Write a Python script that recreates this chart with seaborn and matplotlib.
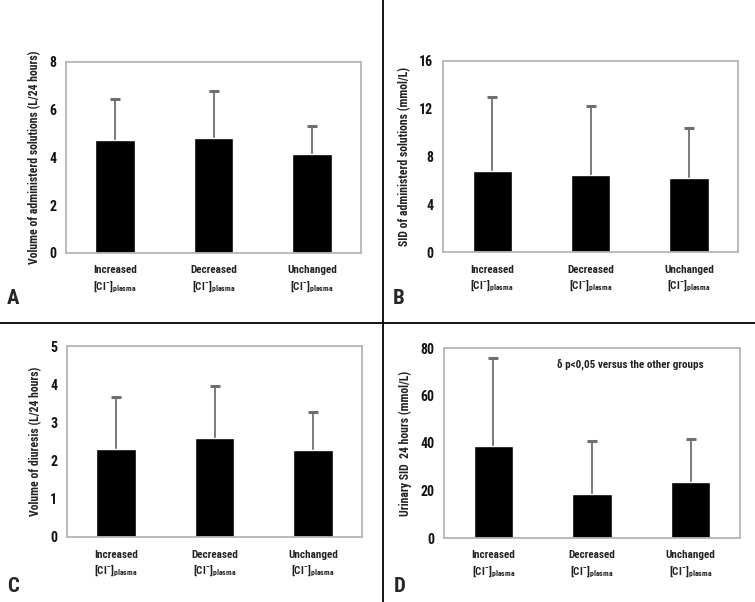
import matplotlib
matplotlib.use("Agg")
import matplotlib.pyplot as plt
from matplotlib import font_manager
import numpy as np
import pandas as pd
import seaborn as sns

# Data (mean and upper SD)
groups = ["Increased", "Decreased", "Unchanged"]
tick_labels = ["Increased\n[Cl$^{-}$]$_{\\mathrm{plasma}}$",
               "Decreased\n[Cl$^{-}$]$_{\\mathrm{plasma}}$",
               "Unchanged\n[Cl$^{-}$]$_{\\mathrm{plasma}}$"]

vol_admin_mean = [4.72, 4.83, 4.15]
vol_admin_sd = [1.73, 1.97, 1.18]

sid_admin_mean = [6.80, 6.41, 6.16]
sid_admin_sd = [6.22, 5.83, 4.26]

diuresis_mean = [2.30, 2.60, 2.28]
diuresis_sd = [1.36, 1.36, 0.98]

urinary_sid_mean = [38.6, 18.5, 23.6]
urinary_sid_sd = [37.3, 22.5, 18.2]

sns.set_style("white")

# pick a narrow font if one is around
names = {f.name for f in font_manager.fontManager.ttflist}
narrow = [n for n in ["Roboto Condensed", "Liberation Sans Narrow", "Open Sans Condensed",
                      "DejaVu Sans Condensed"] if n in names]
plt.rcParams['font.family'] = narrow + ['DejaVu Sans']
plt.rcParams['font.stretch'] = 'condensed'
plt.rcParams['font.weight'] = 'bold'
plt.rcParams['mathtext.fontset'] = 'custom'
base = (narrow + ['DejaVu Sans'])[0]
plt.rcParams['mathtext.rm'] = base + ':bold'
plt.rcParams['mathtext.it'] = base + ':bold'
plt.rcParams['mathtext.bf'] = base + ':bold'

W, H = 755, 602
fig = plt.figure(figsize=(W / 100, H / 100), dpi=100)


def px_axes(left, top, right, bottom):
    return fig.add_axes([left / W, 1 - bottom / H, (right - left) / W, (bottom - top) / H])


def panel(ax, means, sds, ymax, yticks, ylabel):
    df = pd.DataFrame({"group": groups, "value": means})
    sns.barplot(data=df, x="group", y="value", color="black", width=0.4,
                errorbar=None, ax=ax, zorder=2)
    x = np.arange(len(groups))
    tops = np.array(means) + np.array(sds)
    # upper error bar only
    ax.errorbar(x, means, yerr=[np.zeros(len(sds)), sds],
                fmt="none", ecolor="#6f6f6f", elinewidth=1.3, capsize=0, zorder=1)
    ax.plot(x, tops, ls="none", marker="_", ms=7, mew=2.2, color="#6f6f6f", zorder=1)
    ax.set_xlim(-0.5, 2.5)
    ax.set_ylim(0, ymax)
    ax.set_yticks(yticks)
    ax.set_xticks(range(len(groups)))
    ax.set_xticklabels(tick_labels, fontsize=8, linespacing=1.25, color="#222222")
    ax.set_xlabel("")
    ax.set_ylabel(ylabel, fontsize=8.5, fontweight="bold", color="#222222", labelpad=6)
    ax.tick_params(axis="y", length=0, labelsize=10, labelcolor="#111111", pad=7)
    ax.tick_params(axis="x", length=0, pad=9)
    for s in ax.spines.values():
        s.set_color("#b5b5b5")
        s.set_linewidth(1.3)
        s.set_visible(True)


axA = px_axes(66, 62, 361, 253)
panel(axA, vol_admin_mean, vol_admin_sd, 8, [0, 2, 4, 6, 8],
      "Volume of administerd solutions (L/24 hours)")

axB = px_axes(443, 61, 738, 252)
panel(axB, sid_admin_mean, sid_admin_sd, 16, [0, 4, 8, 12, 16],
      "SID of administerd solutions (mmol/L)")

axC = px_axes(67, 346, 362, 537)
panel(axC, diuresis_mean, diuresis_sd, 5, [0, 1, 2, 3, 4, 5],
      "Volume of diuresis (L/24 hours)")

axD = px_axes(444, 348, 740, 538)
panel(axD, urinary_sid_mean, urinary_sid_sd, 80, [0, 20, 40, 60, 80],
      "Urinary SID  24 hours (mmol/L)")
axD.text(0.63, 0.915, "\u03b4 p<0,05 versus the other groups", transform=axD.transAxes,
         ha="center", va="center", fontsize=8, color="#222222")

# panel letters
for letter, x, y in [("A", 7, 298), ("B", 393, 299), ("C", 7, 586), ("D", 394, 586)]:
    fig.text(x / W, 1 - y / H, letter, fontsize=15, fontweight="heavy", va="center", ha="left")

# divider lines
fig.add_artist(plt.Line2D([383 / W, 383 / W], [0, 1], color="black", lw=1.3))
fig.add_artist(plt.Line2D([0, 1], [1 - 323 / H, 1 - 323 / H], color="black", lw=1.3))

fig.savefig("out.png", dpi=100, facecolor="white")
